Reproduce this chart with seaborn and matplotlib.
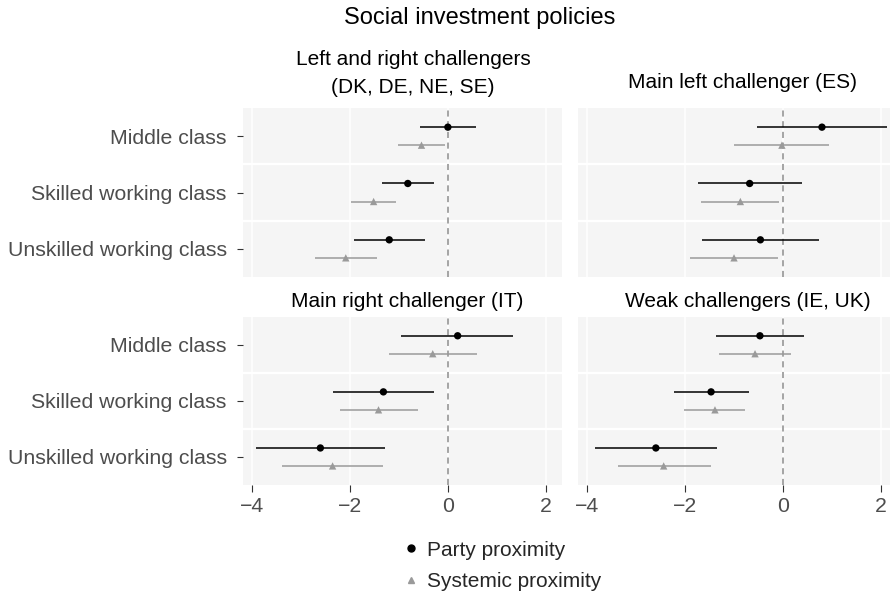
import numpy as np
import pandas as pd
import seaborn as sns
import matplotlib.pyplot as plt
from matplotlib.lines import Line2D

# Data
classes = ["Middle class", "Skilled working class", "Unskilled working class"]
panels = ["Left and right challengers\n(DK, DE, NE, SE)", "Main left challenger (ES)",
          "Main right challenger (IT)", "Weak challengers (IE, UK)"]

# one inner list per panel, in class order
party_est = [[0.00, -0.82, -1.20], [0.80, -0.68, -0.46], [0.20, -1.32, -2.61], [-0.47, -1.47, -2.60]]
party_lo = [[-0.58, -1.34, -1.93], [-0.52, -1.73, -1.65], [-0.95, -2.35, -3.93], [-1.36, -2.23, -3.85]]
party_hi = [[0.57, -0.29, -0.46], [2.13, 0.39, 0.73], [1.34, -0.29, -1.28], [0.43, -0.70, -1.34]]
sys_est = [[-0.54, -1.52, -2.09], [-0.02, -0.87, -1.00], [-0.31, -1.42, -2.36], [-0.57, -1.39, -2.44]]
sys_lo = [[-1.03, -1.98, -2.73], [-1.00, -1.67, -1.90], [-1.21, -2.21, -3.40], [-1.30, -2.02, -3.38]]
sys_hi = [[-0.05, -1.07, -1.45], [0.95, -0.08, -0.10], [0.60, -0.61, -1.32], [0.16, -0.78, -1.48]]

measures = ["Party proximity", "Systemic proximity"]

rows = []
for p in range(4):
    for c in range(3):
        rows.append([p, c, measures[0], party_est[p][c], party_lo[p][c], party_hi[p][c]])
        rows.append([p, c, measures[1], sys_est[p][c], sys_lo[p][c], sys_hi[p][c]])
df = pd.DataFrame(rows, columns=["panel", "cls", "measure", "est", "lo", "hi"])
df["y"] = df["cls"] + np.where(df["measure"] == measures[0], -0.16, 0.16)

sns.set_theme(style="white")
plt.rcParams["font.family"] = ["Liberation Sans", "DejaVu Sans"]

colors = {measures[0]: "black", measures[1]: "#9a9a9a"}
marks = {measures[0]: "o", measures[1]: "^"}

fig = plt.figure(figsize=(8.9, 5.93), dpi=100)
W, H = 890, 593
boxes = [(242.7, 108, 561.7, 277), (577.7, 108, 896.7, 277),
         (242.7, 316.7, 561.7, 485), (577.7, 316.7, 896.7, 485)]
# strip title centre x and baseline y, in pixels
title_x = [413, 742, 407, 748]
title_y = [93, 88, 306.7, 306.7]

for p, (x0, y0, x1, y1) in enumerate(boxes):
    ax = fig.add_axes([x0 / W, 1 - y1 / H, (x1 - x0) / W, (y1 - y0) / H])
    ax.set_facecolor("#f5f5f5")
    for s in ax.spines.values():
        s.set_visible(False)
    for gx in [-4, -2, 0, 2]:
        ax.axvline(gx, color="white", lw=1.1, zorder=0)
    for gy in [0.5, 1.5]:
        ax.axhline(gy, color="white", lw=1.6, zorder=0)
    ax.axvline(0, color="#8c8c8c", lw=1.1, ls=(0, (4, 3)), zorder=1)

    d = df[df["panel"] == p]
    for m in measures:
        dm = d[d["measure"] == m]
        ax.hlines(dm["y"], dm["lo"], dm["hi"], color=colors[m], lw=1.1, zorder=2)
    sns.scatterplot(data=d, x="est", y="y", hue="measure", style="measure",
                    palette=colors, markers=marks, s=28, edgecolor="none",
                    legend=False, ax=ax, zorder=3)

    ax.set_xlim(-4.2, 2.33)
    ax.set_ylim(2.5, -0.5)
    ax.set_xlabel("")
    ax.set_ylabel("")
    ax.set_xticks([-4, -2, 0, 2])
    ax.set_yticks([0, 1, 2])
    fig.text(title_x[p] / W, 1 - title_y[p] / H, panels[p], ha="center", va="baseline",
             fontsize=15, color="black", linespacing=1.6, multialignment="center")
    if p % 2 == 0:
        ax.set_yticklabels(classes)
        ax.tick_params(axis="y", left=True, length=4, width=0.8, color="#333333",
                       labelsize=15.3, labelcolor="#4d4d4d", pad=7.5)
    else:
        ax.set_yticklabels([])
        ax.tick_params(axis="y", left=False)
    if p >= 2:
        ax.set_xticklabels(["\u22124", "\u22122", "0", "2"])
        ax.tick_params(axis="x", bottom=True, length=5, width=0.8, color="#333333",
                       labelsize=15.3, labelcolor="#4d4d4d", pad=4)
    else:
        ax.set_xticklabels([])
        ax.tick_params(axis="x", bottom=False)

fig.text(480 / W, 1 - 18 / H, "Social investment policies", ha="center", va="center",
         fontsize=17, color="black")

handles = [Line2D([], [], ls="none", marker=marks[m], color=colors[m], markersize=5)
           for m in measures]
fig.legend(handles, measures, loc="center", bbox_to_anchor=(502 / W, 1 - 566 / H),
           frameon=False, fontsize=15, handlelength=0.8, handletextpad=0.37,
           labelspacing=0.62)

fig.savefig("out.png", dpi=100)
